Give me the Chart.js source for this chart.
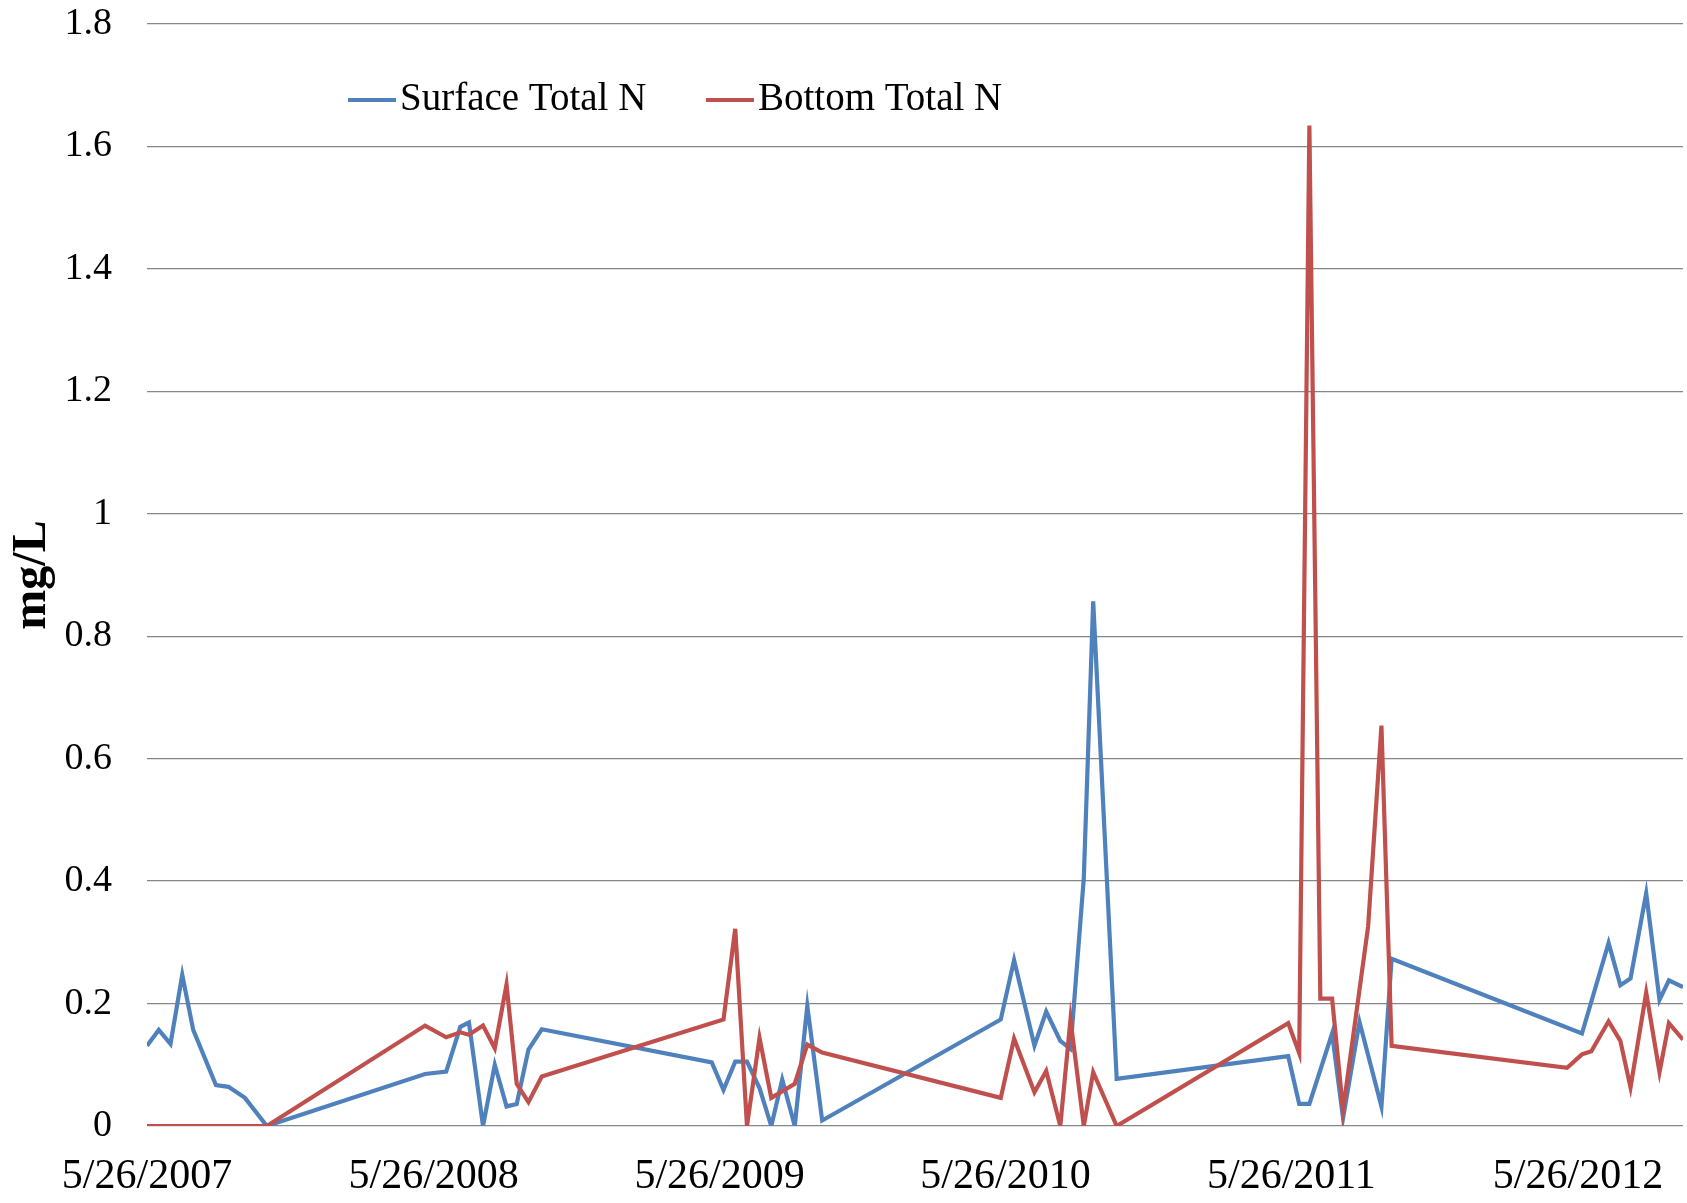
<!DOCTYPE html>
<html>
<head>
<meta charset="utf-8">
<script src="https://cdn.jsdelivr.net/npm/chart.js@4/dist/chart.umd.min.js"></script>
<style>
  html, body { margin: 0; padding: 0; background: #ffffff; }
  #wrap { width: 1687px; height: 1203px; }
</style>
</head>
<body>
<div id="wrap"><canvas id="c" width="1687" height="1203"></canvas></div>
<script>
// ---- data ----
const seriesNames = ['Surface Total N', 'Bottom Total N'];
const yTitle = 'mg/L';
const tickLabels = ['5/26/2007', '5/26/2008', '5/26/2009', '5/26/2010', '5/26/2011', '5/26/2012'];

const surfaceDates = [
  '2007-05-26','2007-06-10','2007-06-25','2007-07-10','2007-07-24','2007-08-22','2007-09-07','2007-09-28','2007-10-26',
  '2008-05-15','2008-06-11','2008-06-29','2008-07-10','2008-07-28','2008-08-12','2008-08-27','2008-09-09','2008-09-24','2008-10-11',
  '2009-05-16','2009-05-31','2009-06-15','2009-06-30','2009-07-16','2009-07-31','2009-08-14','2009-08-30','2009-09-15','2009-10-04',
  '2010-05-20','2010-06-06','2010-07-02','2010-07-17','2010-08-04','2010-08-17','2010-09-03','2010-09-15','2010-10-15',
  '2011-05-22','2011-06-05','2011-06-18','2011-07-17','2011-07-31','2011-08-21','2011-09-18','2011-10-01',
  '2012-05-31','2012-07-04','2012-07-19','2012-08-01','2012-08-21','2012-09-07','2012-09-19','2012-10-07'
];
const surfaceValues = [
  0.131, 0.157, 0.134, 0.247, 0.157, 0.067, 0.064, 0.046, 0,
  0.085, 0.089, 0.162, 0.169, 0, 0.100, 0.032, 0.036, 0.125, 0.158,
  0.104, 0.059, 0.105, 0.105, 0.062, 0, 0.076, 0, 0.196, 0.009,
  0.174, 0.271, 0.131, 0.187, 0.139, 0.126, 0.405, 0.857, 0.077,
  0.114, 0.036, 0.036, 0.151, 0.013, 0.170, 0.032, 0.273,
  0.151, 0.299, 0.230, 0.241, 0.380, 0.206, 0.238, 0.227
];

const bottomDates = [
  '2007-05-26','2007-06-10','2007-06-25','2007-07-10','2007-07-24','2007-08-22','2007-09-07','2007-09-28','2007-10-26',
  '2008-05-15','2008-06-11','2008-06-29','2008-07-10','2008-07-28','2008-08-12','2008-08-27','2008-09-09','2008-09-24','2008-10-11',
  '2009-05-31','2009-06-15','2009-06-30','2009-07-16','2009-07-31','2009-08-30','2009-09-15','2009-10-04',
  '2010-05-20','2010-06-06','2010-07-02','2010-07-17','2010-08-04','2010-08-17','2010-09-03','2010-09-15','2010-10-15',
  '2011-05-22','2011-06-05','2011-06-18','2011-07-02','2011-07-17','2011-07-31','2011-09-01','2011-09-18','2011-10-01',
  '2012-05-12','2012-05-31','2012-06-12','2012-07-04','2012-07-19','2012-08-01','2012-08-21','2012-09-07','2012-09-19','2012-10-07'
];
const bottomValues = [
  0, 0, 0, 0, 0, 0, 0, 0, 0,
  0.164, 0.145, 0.153, 0.149, 0.164, 0.127, 0.231, 0.069, 0.039, 0.081,
  0.174, 0.322, 0, 0.144, 0.046, 0.069, 0.133, 0.120,
  0.046, 0.143, 0.055, 0.090, 0, 0.174, 0, 0.088, 0,
  0.168, 0.119, 1.634, 0.208, 0.208, 0.026, 0.326, 0.654, 0.131,
  0.095, 0.117, 0.122, 0.171, 0.139, 0.063, 0.218, 0.088, 0.168, 0.141
];

// ---- helpers ----
function isoToDay(iso) {
  const [y, m, d] = iso.split('-').map(Number);
  return Date.UTC(y, m - 1, d) / 86400000;
}
function labelToDay(lbl) {
  const [m, d, y] = lbl.split('/').map(Number);
  return Date.UTC(y, m - 1, d) / 86400000;
}
const toPoints = (dates, values) => dates.map((d, i) => ({ x: isoToDay(d), y: values[i] }));
const tickValues = tickLabels.map(labelToDay);
const allDays = surfaceDates.concat(bottomDates).map(isoToDay);
const xMin = Math.min(...allDays);
const xMax = Math.max(...allDays);

const FONT = "'Liberation Serif', 'Times New Roman', serif";

// legend drawn inside the plot area, as in the reference
const overlayLegend = {
  id: 'overlayLegend',
  afterDraw(chart, args, opts) {
    const ctx = chart.ctx;
    ctx.save();
    ctx.font = opts.fontSize + 'px ' + FONT;
    ctx.textBaseline = 'middle';
    ctx.textAlign = 'left';
    chart.data.datasets.forEach((ds, i) => {
      const x = opts.starts[i];
      const y = opts.y;
      ctx.strokeStyle = ds.borderColor;
      ctx.lineWidth = opts.lineWidth;
      ctx.lineCap = 'butt';
      ctx.beginPath();
      ctx.moveTo(x, y);
      ctx.lineTo(x + opts.lineLen, y);
      ctx.stroke();
      ctx.fillStyle = '#000000';
      ctx.fillText(ds.label, x + opts.lineLen + opts.gap, y);
    });
    ctx.restore();
  }
};

new Chart(document.getElementById('c'), {
  type: 'line',
  data: {
    datasets: [
      {
        label: seriesNames[0],
        data: toPoints(surfaceDates, surfaceValues),
        borderColor: '#4F81BD',
        borderWidth: 4.2,
        pointRadius: 0,
        tension: 0,
        fill: false,
        order: 1
      },
      {
        label: seriesNames[1],
        data: toPoints(bottomDates, bottomValues),
        borderColor: '#C0504D',
        borderWidth: 4.2,
        pointRadius: 0,
        tension: 0,
        fill: false,
        order: 0
      }
    ]
  },
  options: {
    responsive: false,
    animation: false,
    devicePixelRatio: 1,
    layout: { padding: { left: 0, right: 4, top: 24, bottom: 0 } },
    plugins: {
      legend: { display: false },
      tooltip: { enabled: false },
      overlayLegend: { starts: [348, 706], y: 100, lineLen: 48, gap: 4, lineWidth: 4, fontSize: 39 }
    },
    scales: {
      x: {
        type: 'linear',
        min: xMin,
        max: xMax,
        grid: { display: false, drawTicks: false },
        border: { display: false },
        afterBuildTicks: (scale) => { scale.ticks = tickValues.map(v => ({ value: v })); },
        afterFit: (scale) => { scale.height = 77; scale.paddingLeft = 0; scale.paddingRight = 0; },
        ticks: {
          autoSkip: false,
          maxRotation: 0,
          minRotation: 0,
          padding: 26,
          color: '#000000',
          font: { family: FONT, size: 42 },
          callback: (v, i) => tickLabels[i]
        }
      },
      y: {
        min: 0,
        max: 1.8,
        afterFit: (scale) => { scale.width = 147; scale.paddingTop = 0; scale.paddingBottom = 0; },
        grid: { color: '#868686', lineWidth: 1.3, drawTicks: false },
        border: { display: false },
        ticks: {
          stepSize: 0.2,
          padding: 35,
          color: '#000000',
          font: { family: FONT, size: 38 },
          callback: (v) => String(+Number(v).toFixed(1))
        },
        title: {
          display: true,
          text: yTitle,
          color: '#000000',
          font: { family: FONT, size: 48, weight: 'bold' },
          padding: { top: 4, bottom: 0 }
        }
      }
    }
  },
  plugins: [overlayLegend]
});
</script>
</body>
</html>
